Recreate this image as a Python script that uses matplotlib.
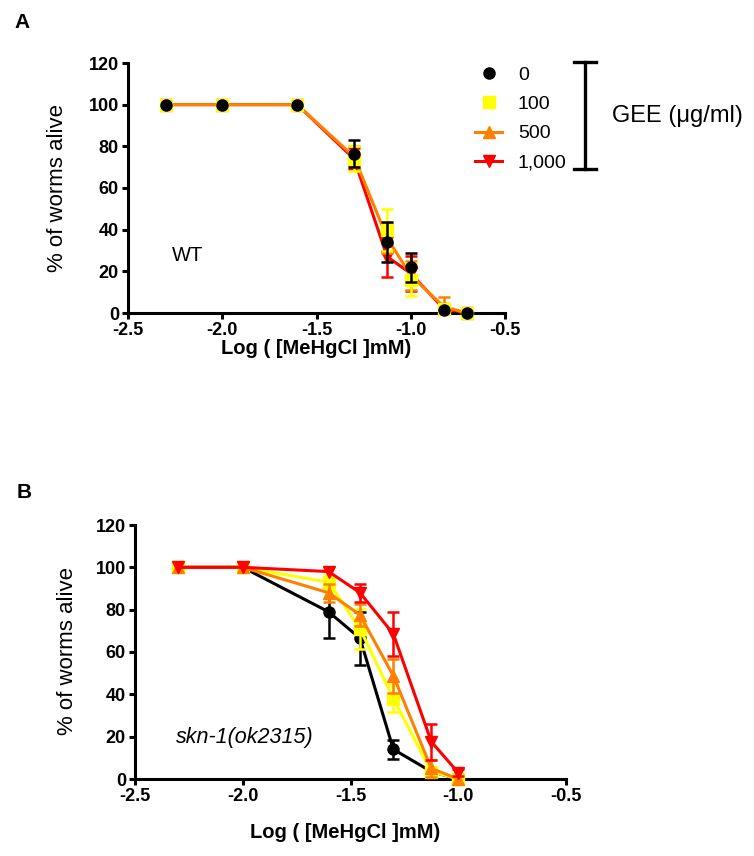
import matplotlib
matplotlib.use('Agg')
import matplotlib.pyplot as plt
from matplotlib.lines import Line2D
import numpy as np

plt.rcParams['font.family'] = ['Liberation Sans', 'DejaVu Sans']

# GEE doses (ug/ml) and their styles
doses = ['0', '100', '500', '1,000']
colors = ['black', '#FFFF00', '#FF8000', '#FF0000']
markers = ['o', 's', '^', 'v']

# panel A: wild type, log[MeHgCl] mM
x_wt = [-2.301, -2.0, -1.602, -1.301, -1.125, -1.0, -0.824, -0.699]
wt_mean = [
    [100, 100, 100, 76.5, 34, 22, 1.5, 0],
    [100, 100, 100, 74, 40, 16, 2, 0],
    [100, 100, 100, 75, 36, 18, 3, 0],
    [100, 100, 100, 74, 27, 19, 2, 0],
]
wt_err = [
    [0, 0, 0, 6.5, 9.5, 7, 0, 0],
    [0, 0, 0, 6, 10, 8, 0, 0],
    [0, 0, 0, 5, 7, 7, 4.5, 0],
    [0, 0, 0, 5, 9.5, 8.5, 0, 0],
]

# panel B: skn-1(ok2315)
x_skn = [-2.301, -2.0, -1.602, -1.456, -1.301, -1.125, -1.0]
skn_mean = [
    [100, 100, 79, 66.5, 14, 3.5, 0],
    [100, 100, 93, 71, 38, 3.5, 0],
    [100, 100, 88, 77.5, 48.7, 5, 0],
    [100, 100, 98, 88, 68.5, 17.6, 3],
]
skn_err = [
    [0, 0, 12.5, 12.5, 4.5, 0, 0],
    [0, 0, 3.5, 9.5, 6.3, 0, 0],
    [0, 0, 4.3, 5, 8, 4, 0],
    [0, 0, 0, 4.3, 10.4, 8.6, 1.5],
]

x_ticks = [-2.5, -2.0, -1.5, -1.0, -0.5]
y_ticks = [0, 20, 40, 60, 80, 100, 120]


def style_axes(ax):
    for side in ['top', 'right']:
        ax.spines[side].set_visible(False)
    for side in ['left', 'bottom']:
        ax.spines[side].set_linewidth(2.2)
    ax.set_xlim(-2.5, -0.5)
    ax.set_ylim(0, 120)
    ax.set_xticks(x_ticks)
    ax.set_xticklabels(['%.1f' % t for t in x_ticks])
    ax.set_yticks(y_ticks)
    ax.tick_params(direction='out', length=4, width=2.2, pad=2.5, labelsize=13)
    for lab in ax.get_xticklabels() + ax.get_yticklabels():
        lab.set_fontweight('bold')


def draw_series(ax, x, mean, err, i, with_line, z):
    x = np.array(x)
    m = np.array(mean, dtype=float)
    e = np.array(err, dtype=float)
    ls = '-' if with_line else 'none'
    ax.plot(x, m, color=colors[i], lw=2.2, ls=ls, marker=markers[i],
            ms=8, mec=colors[i], zorder=z, clip_on=False)
    k = e > 0
    if k.any():
        ax.errorbar(x[k], m[k], yerr=e[k], fmt='none', ecolor=colors[i],
                    elinewidth=1.8, capsize=4, capthick=1.8, zorder=z)


fig = plt.figure(figsize=(7.54, 8.56), dpi=100)
axA = fig.add_axes([128 / 754, 1 - 313 / 856, 377 / 754, 250 / 856])
axB = fig.add_axes([135 / 754, 1 - 779 / 856, 431 / 754, 254 / 856])

# panel A: only 500 and 1,000 are joined by lines
a_order = [3, 2, 1, 0]
for z, i in enumerate(a_order):
    draw_series(axA, x_wt, wt_mean[i], wt_err[i], i, i >= 2, 3 + z)

for z, i in enumerate([0, 1, 2, 3]):
    draw_series(axB, x_skn, skn_mean[i], skn_err[i], i, True, 3 + z)

for ax in (axA, axB):
    style_axes(ax)
    ax.set_ylabel('% of worms alive', fontsize=16)
    ax.set_xlabel('Log ( [MeHgCl ]mM)', fontsize=14.5, fontweight='bold')

axA.yaxis.set_label_coords(-0.159, 0.5)
axB.yaxis.set_label_coords(-0.133, 0.502)
axA.xaxis.set_label_coords(0.5, -0.106)
axB.xaxis.set_label_coords(0.487, -0.175)

axA.text(-2.267, 27.8, 'WT', fontsize=14.5, va='center', ha='left')
axB.text(-2.31, 19.8, 'skn-1(ok2315)', fontsize=15.5, style='italic',
         va='center', ha='left')

fig.text(14 / 754, 1 - 23 / 856, 'A', fontsize=15, fontweight='bold', va='center')
fig.text(17 / 754, 1 - 492 / 856, 'B', fontsize=15, fontweight='bold', va='center')

# legend
handles = []
for i in range(4):
    ls = '-' if i >= 2 else 'none'
    handles.append(Line2D([], [], color=colors[i], marker=markers[i], ls=ls,
                          lw=2.2, ms=8, mec=colors[i]))
axA.legend(handles, doses, loc='center left',
           bbox_to_anchor=(475 / 754, 1 - 119 / 856),
           bbox_transform=fig.transFigure, frameon=False, fontsize=14,
           handlelength=1.4, handletextpad=0.8, labelspacing=0.6,
           borderpad=0, borderaxespad=0)

# bracket grouping the doses
bx = 585 / 754
y0, y1 = 1 - 62 / 856, 1 - 169 / 856
fig.add_artist(Line2D([bx, bx], [y0, y1], color='black', lw=2.4,
                      transform=fig.transFigure))
for yy in (y0, y1):
    fig.add_artist(Line2D([bx - 11 / 754, bx + 11 / 754], [yy, yy],
                          color='black', lw=2.4, transform=fig.transFigure))
fig.text(612 / 754, 1 - 116 / 856, 'GEE (\u03bcg/ml)', fontsize=17, va='center')

fig.savefig('out.png', dpi=100)
